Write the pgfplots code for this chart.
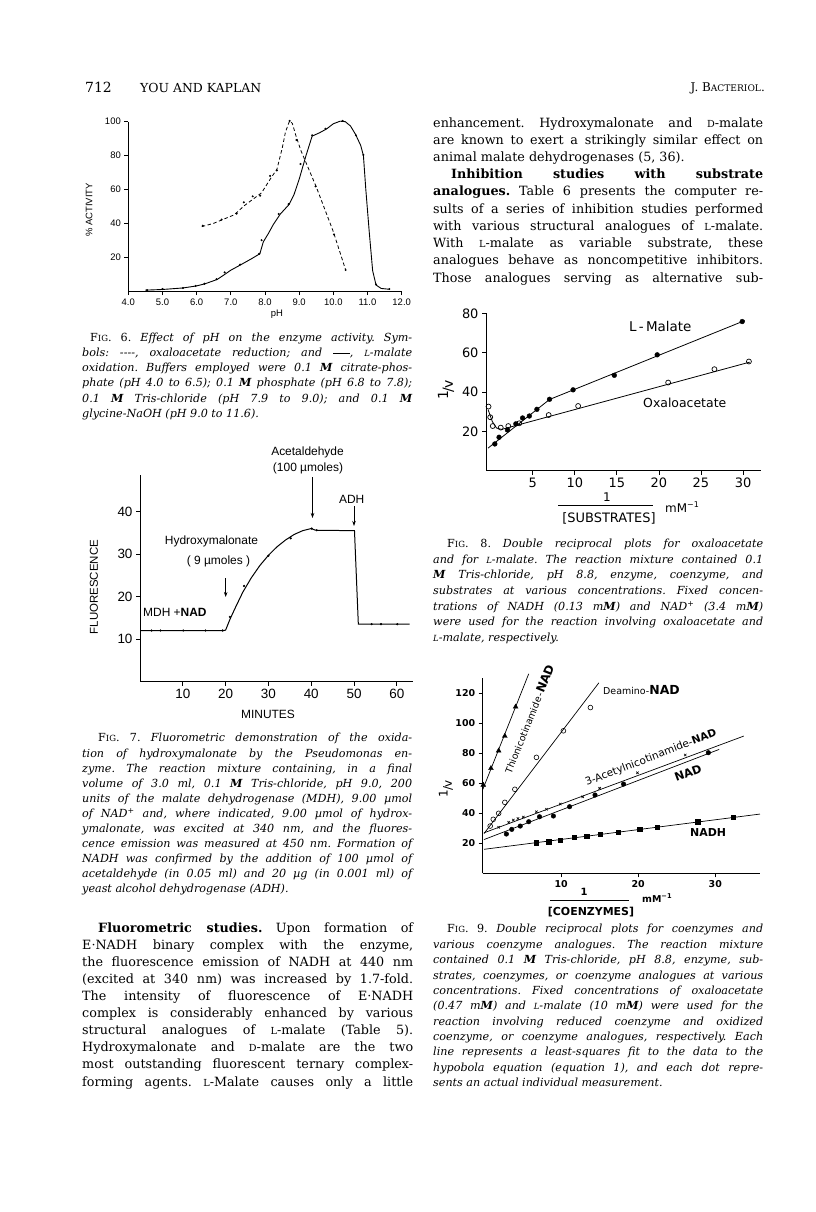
\documentclass[border=0pt]{standalone}
\usepackage{pgfplots}
\pgfplotsset{compat=1.18}
\usepackage{graphicx}
\usepackage{fontspec}
\setmainfont{DejaVu Serif}
\usetikzlibrary{arrows.meta}
\newfontfamily\lib{Liberation Sans}
\newfontfamily\dej{DejaVu Sans}
\newcommand\fs[1]{\fontsize{#1}{#1}\selectfont}
\newcommand\smc[1]{\scalebox{0.76}{#1}}
\newcommand\Ln[4]{\node[anchor=base west,inner sep=0pt] at (#1bp,-#2bp) {\makebox[#3bp][s]{#4}};}
\newcommand\Lf[3]{\node[anchor=base west,inner sep=0pt] at (#1bp,-#2bp) {#3};}
\newcommand\Fig[1]{{\upshape F\smc{IG}. #1.}}
\pgfplotsset{pg/.style={scale only axis, anchor=south west, axis x line=bottom, axis y line=left,
  axis line style={-,line width=0.9pt}, tick align=outside, major tick length=4bp,
  tick style={line width=0.8pt,black}, clip=false, /pgf/number format/assume math mode=true}}
\frenchspacing
\begin{document}
\frenchspacing
\begin{tikzpicture}
\useasboundingbox (0,0) rectangle (816bp,-1212bp);
\fill[white] (0,0) rectangle (816bp,-1212bp);

% ---------- header ----------
\node[anchor=base west,inner sep=0pt,font=\fs{14}] at (85bp,-92bp) {712};
\node[anchor=base west,inner sep=0pt,font=\fs{12.5}] at (140bp,-92bp) {YOU AND KAPLAN};
\node[anchor=base east,inner sep=0pt,font=\fs{12}] at (765bp,-91bp) {J. B\smc{ACTERIOL}.};

% ---------- Fig 6 ----------
\begin{axis}[pg, at={(128.3bp,-291bp)}, width=273.4bp, height=169.3bp,
  xmin=4, xmax=12, ymin=0, ymax=100, xtick={4,5,...,12}, ytick={20,40,60,80,100},
  x tick label style={/pgf/number format/fixed,/pgf/number format/fixed zerofill,/pgf/number format/precision=1},
  tick label style={font=\lib\fs{9.5}}]
\addplot[line width=0.9pt] coordinates {(4.5,0.5)(5.0,0.9)(5.6,1.8)(6.0,3)(6.25,4.3)(6.6,6.8)(6.8,9.5)(7.0,12.3)(7.3,15.6)(7.6,19)(7.85,22)(7.95,29)(8.1,34)(8.25,39.5)(8.45,45.5)(8.7,51)(8.85,57)(9.0,66)(9.2,80)(9.38,91.5)(9.6,93.5)(9.8,95.7)(10.0,98.8)(10.2,100.3)(10.35,100)(10.5,97.5)(10.65,92.5)(10.8,86)(10.88,80)(10.95,60)(11.05,35)(11.15,12)(11.25,3.5)(11.4,1.5)(11.65,1)};
\addplot[only marks, mark=*, mark size=0.8pt] coordinates {(4.55,0.5)(5.0,1.2)(5.6,1.8)(5.97,3)(6.23,4.3)(6.58,7)(6.82,11)(7.27,15.6)(7.83,22)(7.9,30)(8.4,45.5)(8.69,51.3)(9.04,75)(9.38,92)(9.77,95.8)(10.27,100.5)(10.66,92)(10.88,80.4)(11.25,3.9)(11.64,1.2)};
\addplot[line width=0.8pt, dash pattern=on 3.5bp off 2.5bp] coordinates {(6.15,38)(6.5,40)(6.8,42.5)(7.1,45)(7.4,50.5)(7.7,55)(7.9,58)(8.15,66)(8.35,72)(8.5,84)(8.6,94)(8.72,100.5)(8.8,99)(8.9,92)(9.05,83)(9.5,61.5)(10.0,35)(10.36,12.4)};
\addplot[only marks, mark=*, mark size=0.8pt] coordinates {(6.18,38.6)(6.73,42.2)(7.17,45.7)(7.38,52.4)(7.64,55.9)(7.86,56.3)(8.15,68)(8.35,71.2)(8.72,100.5)(8.92,89.2)(9.48,61.8)(10.02,33.4)(10.36,12.4)};
\end{axis}
\node[rotate=90,font=\lib\fs{9.5},inner sep=0pt] at (89bp,-210bp) {\% ACTIVITY};
\node[anchor=base,font=\lib\fs{9.5},inner sep=0pt] at (277bp,-316.5bp) {pH};

% ---------- Fig 7 ----------
\begin{axis}[pg, at={(140bp,-681.5bp)}, width=272.7bp, height=206.5bp,
  xmin=0, xmax=63.7, ymin=0, ymax=48.6, xtick={10,20,...,60}, ytick={10,20,30,40},
  tick label style={font=\lib\fs{13.5}}]
\addplot[line width=1pt] coordinates {(0,12)(19.6,12)(20,12.1)(21,14.6)(22,16.8)(24,21)(26,24.4)(28,27.3)(30,29.7)(32,31.7)(34,33.3)(36,34.6)(38,35.5)(40,36)(41,35.6)(50.1,35.5)(51,13.5)(63,13.5)};
\addplot[only marks, mark=*, mark size=0.9pt] coordinates {(2.7,12)(4.8,12)(10.1,12)(15.3,12)(19.3,12)(21.0,15.2)(24.3,22.5)(30,29.6)(35.2,33.7)(40.1,36)(41.3,35.6)(54.1,13.5)(56.3,13.5)(60.1,13.5)};
\end{axis}
\begin{scope}[every node/.style={font=\lib\fs{12},inner sep=0pt}]
\node[anchor=base] at (307.5bp,-455bp) {Acetaldehyde};
\node[anchor=base] at (308bp,-471bp) {(100 µmoles)};
\node[anchor=base] at (351.7bp,-503bp) {ADH};
\node[anchor=base] at (211.5bp,-544bp) {Hydroxymalonate};
\node[anchor=base] at (218.5bp,-564bp) {( 9 µmoles )};
\node[anchor=base west] at (143bp,-616bp) {MDH +\textbf{NAD}};
\node[rotate=90,font=\lib\fs{11.5}] at (94bp,-587bp) {FLUORESCENCE};
\node[anchor=base] at (268bp,-718bp) {MINUTES};
\end{scope}
\draw[line width=0.7pt,-{Stealth[length=5bp,width=3.5bp]}] (312.5bp,-477bp) -- (312.5bp,-518bp);
\draw[line width=0.7pt,-{Stealth[length=5bp,width=3.5bp]}] (354bp,-506bp) -- (354bp,-526bp);
\draw[line width=0.7pt,-{Stealth[length=5bp,width=3.5bp]}] (225.7bp,-578bp) -- (225.7bp,-597bp);

% ---------- Fig 8 ----------
\begin{axis}[pg, at={(486bp,-470.7bp)}, width=274.7bp, height=157.4bp,
  xmin=-0.55, xmax=32.1, ymin=0, ymax=80, xtick={5,10,...,30}, ytick={20,40,60,80},
  tick label style={font=\dej\fs{13}}]
\addplot[line width=0.8pt] coordinates {(-0.3,11.5)(7.0,36.2)(30.2,76.3)};
\addplot[line width=0.8pt] coordinates {(-0.3,31)(0.2,25)(0.7,21.7)(1.3,21)(2,21.8)(30.8,55.2)};
\addplot[only marks, mark=*, mark size=2.4pt] coordinates {(0.5,13.6)(1.0,17)(2.0,20.7)(3.0,23.8)(3.8,26.8)(4.6,27.8)(5.5,31.2)(7.0,36.3)(9.8,41.1)(14.7,48.5)(19.8,58.9)(29.9,75.8)};
\addplot[only marks, mark=o, mark size=2.5pt, mark options={fill=white,line width=0.7pt}] coordinates {(-0.25,32.6)(-0.05,27.2)(0.25,22.7)(1.2,21.9)(2.1,22.7)(3.4,24.1)(6.9,28.3)(10.4,32.9)(21.1,44.8)(26.6,51.6)(30.7,55.5)};
\end{axis}
\begin{scope}[every node/.style={font=\dej\fs{12.5},inner sep=0pt}]
\node[anchor=base west,font=\dej\fs{13.5}] at (629bp,-331bp) {L\,-\,Malate};
\node[anchor=base west] at (643bp,-407bp) {Oxaloacetate};
\node[rotate=90,font=\dej\fs{14}] at (446bp,-390bp) {\raisebox{0.35em}{1}\kern-0.1em/\kern-0.1em v};
\node[font=\dej\fs{12}] at (607bp,-497bp) {1};
\node[anchor=base,font=\dej\fs{13}] at (609bp,-522bp) {[SUBSTRATES]};
\node[anchor=base west,font=\dej\fs{12}] at (665bp,-512bp) {mM\textsuperscript{−1}};
\end{scope}
\draw[line width=0.8pt] (558bp,-505bp) -- (653bp,-505bp);

% ---------- Fig 9 ----------
\begin{axis}[pg, at={(482.7bp,-873.3bp)}, width=277.3bp, height=195bp,
  xmin=-0.17, xmax=35.8, ymin=0, ymax=130, xtick={10,20,30}, ytick={20,40,...,120},
  tick label style={font=\dej\bfseries\fs{9.5}}]
\addplot[line width=0.7pt] coordinates {(-0.15,56)(5.8,133)};
\addplot[line width=0.7pt] coordinates {(0,26.5)(14.9,127)};
\addplot[line width=0.7pt] coordinates {(0,27)(33.7,91.5)};
\addplot[line width=0.7pt] coordinates {(0,22.5)(30.5,82.6)};
\addplot[line width=0.7pt] coordinates {(0,16)(35.8,39.5)};
\addplot[only marks, mark=triangle*, mark size=2.8pt] coordinates {(-0.1,58.9)(0.9,70)(1.9,81.7)(2.7,91.5)(4.1,111)};
\addplot[only marks, mark=o, mark size=2.4pt, mark options={fill=white,line width=0.6pt}] coordinates {(0.8,31.5)(1.2,36)(1.9,40)(2.7,47.3)(4.0,56)(6.8,77.3)(10.3,95)(13.8,110.5)};
\addplot[only marks, mark=x, mark size=1.7pt, mark options={line width=0.6pt}] coordinates {(1.9,30.7)(3.2,34)(3.8,35.5)(4.4,36.5)(5.1,37.5)(6.8,41)(8.1,42.7)(9.9,46.2)(12.8,51)(15,56.7)(19.9,67)(26.1,78.9)};
\addplot[only marks, mark=*, mark size=2.3pt] coordinates {(2.9,26.2)(3.6,29.3)(4.7,31.5)(5.8,34.4)(7.2,37.7)(9.0,38.2)(11.1,44.4)(14.4,52.2)(18.1,59.5)(29.1,80.4)};
\addplot[only marks, mark=square*, mark size=2.2pt] coordinates {(6.8,20.4)(8.4,21.1)(9.9,22.2)(11.7,24)(13.3,24.9)(15.1,26)(17.4,27.3)(20.2,29.3)(22.5,30.7)(27.7,34.4)(32.3,37.3)};
\end{axis}
\begin{scope}[every node/.style={font=\dej\fs{9.5},inner sep=0pt}]
\node[rotate=68] at (529bp,-719bp) {Thionicotinamide\,-\textbf{\fs{12}NAD}};
\node[anchor=base west] at (603bp,-694bp) {Deamino-\textbf{\fs{12.5}NAD}};
\node[rotate=21,font=\dej\fs{10.5}] at (651bp,-758bp) {3-Acetylnicotinamide-\textbf{NAD}};
\node[rotate=20,font=\dej\bfseries\fs{11.5}] at (688bp,-773bp) {NAD};
\node[anchor=base west,font=\dej\bfseries\fs{11}] at (690bp,-836bp) {NADH};
\node[rotate=90,font=\dej\fs{12}] at (446bp,-789bp) {\raisebox{0.35em}{1}\kern-0.1em/\kern-0.1em v};
\node[font=\dej\bfseries\fs{10}] at (584bp,-892bp) {1};
\node[anchor=base,font=\dej\bfseries\fs{11}] at (591bp,-915bp) {[COENZYMES]};
\node[anchor=base west,font=\dej\bfseries\fs{9.5}] at (642bp,-902bp) {mM\textsuperscript{−1}};
\end{scope}
\draw[line width=0.8pt] (550bp,-900bp) -- (629bp,-900bp);

% ---------- captions ----------
\begin{scope}[every node/.append style={font=\fs{11.2}\itshape}]
\Ln{90}{341}{322}{\Fig{6} Effect of pH on the enzyme activity. Sym-}
\Ln{82}{356}{330}{bols: -{}-{}-{}-, oxaloacetate reduction; and \rule[0.25em]{1.5em}{0.5pt}, \smc{L}-malate}
\Ln{82}{371}{330}{oxidation. Buffers employed were 0.1 \textbf{M} citrate-phos-}
\Ln{82}{386.5}{330}{phate (pH 4.0 to 6.5); 0.1 \textbf{M} phosphate (pH 6.8 to 7.8);}
\Ln{82}{402}{330}{0.1 \textbf{M} Tris-chloride (pH 7.9 to 9.0); and 0.1 \textbf{M}}
\Lf{82}{417}{glycine-NaOH (pH 9.0 to 11.6).}

\Ln{98}{741}{314}{\Fig{7} Fluorometric demonstration of the oxida-}
\Ln{82}{757}{330}{tion of hydroxymalonate by the Pseudomonas en-}
\Ln{82}{772}{330}{zyme. The reaction mixture containing, in a final}
\Ln{82}{787}{330}{volume of 3.0 ml, 0.1 \textbf{M} Tris-chloride, pH 9.0, 200}
\Ln{82}{802}{330}{units of the malate dehydrogenase (MDH), 9.00 µmol}
\Ln{82}{817}{330}{of NAD\textsuperscript{+} and, where indicated, 9.00 µmol of hydrox-}
\Ln{82}{832}{330}{ymalonate, was excited at 340 nm, and the fluores-}
\Ln{82}{847}{330}{cence emission was measured at 450 nm. Formation of}
\Ln{82}{862}{330}{NADH was confirmed by the addition of 100 µmol of}
\Ln{82}{877}{330}{acetaldehyde (in 0.05 ml) and 20 µg (in 0.001 ml) of}
\Lf{82}{892}{yeast alcohol dehydrogenase (ADH).}

\Ln{447}{547}{316}{\Fig{8} Double reciprocal plots for oxaloacetate}
\Ln{433}{563}{330}{and for \smc{L}-malate. The reaction mixture contained 0.1}
\Ln{433}{578}{330}{\textbf{M} Tris-chloride, pH 8.8, enzyme, coenzyme, and}
\Ln{433}{594}{330}{substrates at various concentrations. Fixed concen-}
\Ln{433}{610}{330}{trations of NADH (0.13 m\textbf{M}) and NAD\textsuperscript{+} (3.4 m\textbf{M})}
\Ln{433}{625}{330}{were used for the reaction involving oxaloacetate and}
\Lf{433}{641}{\smc{L}-malate, respectively.}

\Ln{447}{932}{316}{\Fig{9} Double reciprocal plots for coenzymes and}
\Ln{433}{948}{330}{various coenzyme analogues. The reaction mixture}
\Ln{433}{963.5}{330}{contained 0.1 \textbf{M} Tris-chloride, pH 8.8, enzyme, sub-}
\Ln{433}{979}{330}{strates, coenzymes, or coenzyme analogues at various}
\Ln{433}{994.5}{330}{concentrations. Fixed concentrations of oxaloacetate}
\Ln{433}{1009.5}{330}{(0.47 m\textbf{M}) and \smc{L}-malate (10 m\textbf{M}) were used for the}
\Ln{433}{1025}{330}{reaction involving reduced coenzyme and oxidized}
\Ln{433}{1040}{330}{coenzyme, or coenzyme analogues, respectively. Each}
\Ln{433}{1055.5}{330}{line represents a least-squares fit to the data to the}
\Ln{433}{1071}{330}{hypobola equation (equation 1), and each dot repre-}
\Lf{433}{1086}{sents an actual individual measurement.}
\end{scope}

% ---------- body text ----------
\begin{scope}[every node/.append style={font=\fs{12.8}}]
\Ln{98}{932}{315}{\textbf{Fluorometric studies.} Upon formation of}
\Ln{82}{949}{331}{E\textperiodcentered NADH binary complex with the enzyme,}
\Ln{82}{966}{331}{the fluorescence emission of NADH at 440 nm}
\Ln{82}{983}{331}{(excited at 340 nm) was increased by 1.7-fold.}
\Ln{82}{1000}{331}{The intensity of fluorescence of E\textperiodcentered NADH}
\Ln{82}{1017}{331}{complex is considerably enhanced by various}
\Ln{82}{1034}{331}{structural analogues of \smc{L}-malate (Table 5).}
\Ln{82}{1051}{331}{Hydroxymalonate and \smc{D}-malate are the two}
\Ln{82}{1068}{331}{most outstanding fluorescent ternary complex-}
\Ln{82}{1086}{331}{forming agents. \smc{L}-Malate causes only a little}

\Ln{433}{127}{330}{enhancement. Hydroxymalonate and \smc{D}-malate}
\Ln{433}{144}{330}{are known to exert a strikingly similar effect on}
\Lf{433}{161}{animal malate dehydrogenases (5, 36).}
\Ln{451}{178}{312}{\textbf{Inhibition studies with substrate}}
\Ln{433}{195}{330}{\textbf{analogues.} Table 6 presents the computer re-}
\Ln{433}{213}{330}{sults of a series of inhibition studies performed}
\Ln{433}{230}{330}{with various structural analogues of \smc{L}-malate.}
\Ln{433}{247}{330}{With \smc{L}-malate as variable substrate, these}
\Ln{433}{264}{330}{analogues behave as noncompetitive inhibitors.}
\Ln{433}{282}{330}{Those analogues serving as alternative sub-}
\end{scope}
\end{tikzpicture}
\end{document}
